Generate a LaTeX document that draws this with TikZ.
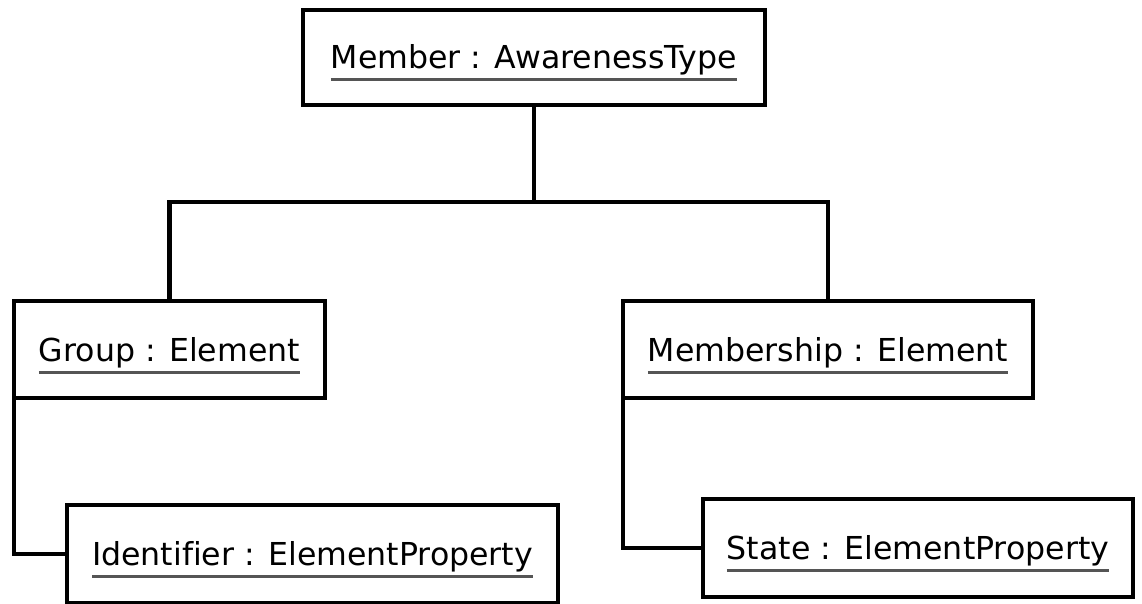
\documentclass[tikz,border=0pt]{standalone}
\usepackage{fontspec}
\setmainfont[Ligatures={NoCommon}]{DejaVu Sans}
\definecolor{ulgray}{HTML}{555555}
\newsavebox\ulboxa
\newcommand\ulbl[1]{\sbox\ulboxa{#1}\rlap{\color{ulgray}\rule[-12.5pt]{\wd\ulboxa}{3pt}}\usebox\ulboxa}
\begin{document}
\begin{tikzpicture}[x=1pt,y=-1pt,
  objbox/.style={draw=black, line width=4.5pt, fill=white, rectangle, inner sep=0pt, outer sep=0pt,
    text height=23pt, text depth=0pt, font=\fontsize{31.6}{38}\selectfont},
  link/.style={draw=black, line width=4.5pt}]
\useasboundingbox[fill=white] (0,0) rectangle (1142,604);
\node[objbox, minimum width=462pt, minimum height=95pt] (top) at (534,57.5) {\ulbl{Member : AwarenessType}};
\node[objbox, minimum width=311pt, minimum height=97pt] (group) at (169.5,349.5) {\ulbl{Group : Element}};
\node[objbox, minimum width=410pt, minimum height=97pt] (memb) at (828,349.5) {\ulbl{Membership : Element}};
\node[objbox, minimum width=491pt, minimum height=98pt] (ident) at (312.5,554) {\ulbl{Identifier : ElementProperty}};
\node[objbox, minimum width=430pt, minimum height=98pt] (state) at (918,548) {\ulbl{State : ElementProperty}};
\coordinate (bus) at (534,202);
\draw[link] (top.south) -- (bus);
\draw[link] (group.north) |- (bus);
\draw[link] (memb.north) |- (bus);
\draw[link] (group.south west) |- (ident.west);
\draw[link] (memb.south west) |- (state.west);
\end{tikzpicture}
\end{document}
